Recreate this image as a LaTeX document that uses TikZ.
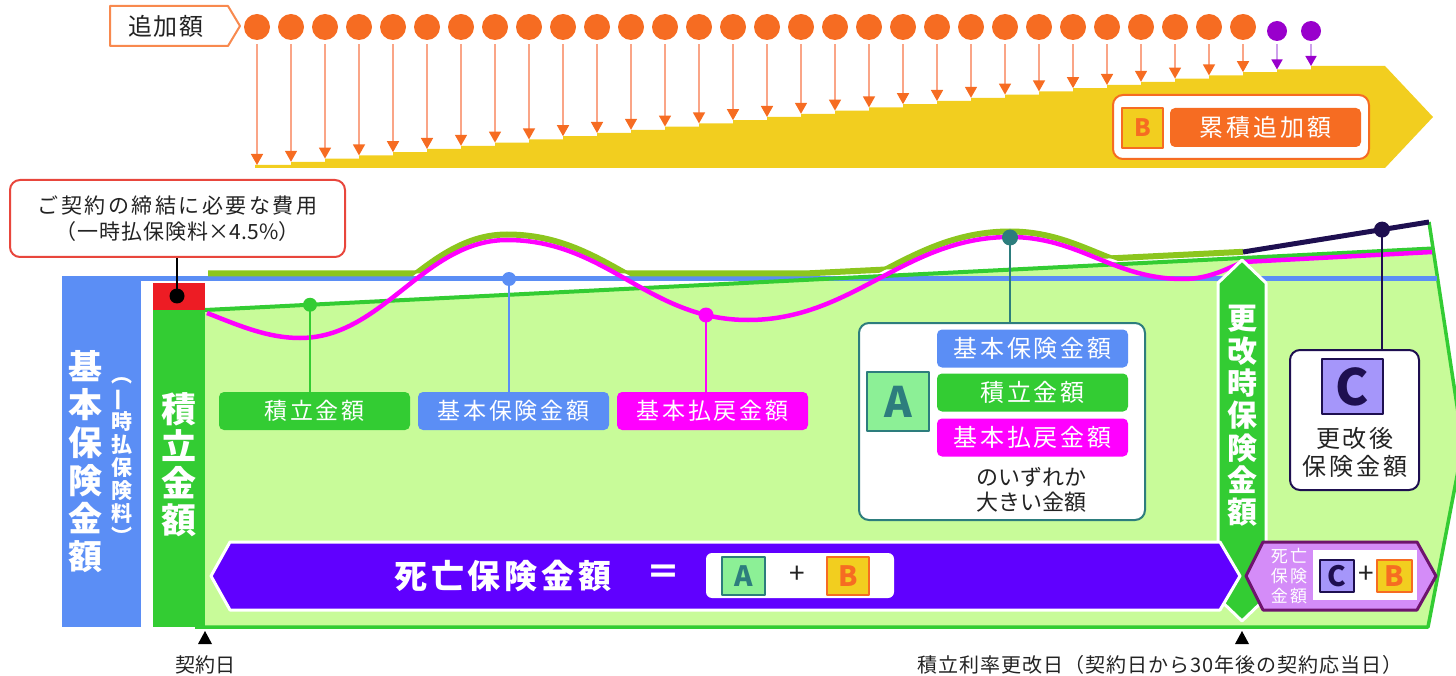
\documentclass[tikz,border=0pt]{standalone}
\usepackage{fontspec}
\usepackage{graphicx}
\setmainfont{Noto Sans CJK JP}
\newfontfamily\jsp{Noto Sans CJK JP}[LetterSpace=12]
\newfontfamily\jss{Noto Sans CJK JP}[LetterSpace=5]
\usetikzlibrary{arrows.meta}
\definecolor{yel}{RGB}{242,206,31}
\definecolor{orng}{RGB}{246,108,34}
\definecolor{orl}{RGB}{250,165,135}
\definecolor{purd}{RGB}{153,0,204}
\definecolor{purl}{RGB}{205,160,235}
\definecolor{blu}{RGB}{91,142,245}
\definecolor{grn}{RGB}{51,204,51}
\definecolor{lgrn}{RGB}{200,251,153}
\definecolor{mag}{RGB}{255,0,255}
\definecolor{olv}{RGB}{140,198,30}
\definecolor{redc}{RGB}{237,28,36}
\definecolor{calred}{RGB}{232,70,60}
\definecolor{navy}{RGB}{30,15,80}
\definecolor{tealc}{RGB}{45,125,125}
\definecolor{agrn}{RGB}{140,240,150}
\definecolor{lavsq}{RGB}{165,150,250}
\definecolor{pur}{RGB}{96,0,255}
\definecolor{lav}{RGB}{212,140,248}
\definecolor{dpur}{RGB}{110,20,110}
\definecolor{txt}{RGB}{35,35,35}
\tikzset{
  odot/.style={circle, fill=orng, minimum size=26pt, inner sep=0pt},
  pdot/.style={circle, fill=purd, minimum size=20pt, inner sep=0pt},
  oarr/.style={orl, line width=1.5pt, shorten <=4pt, -{Triangle[width=12pt,length=11pt,color=orng]}},
  parr/.style={purl, line width=1.5pt, shorten <=3pt, -{Triangle[width=11pt,length=10pt,color=purd]}},
  pill/.style={rounded corners=5pt, inner sep=0pt, text=white, minimum width=191pt, minimum height=38pt, font=\jsp\fontsize{23}{26}\selectfont},
  wbox/.style={rounded corners=10pt, fill=white, line width=2pt, inner sep=0pt},
  sq/.style={line width=2pt, inner sep=0pt, font=\bfseries},
  vtxt/.style={align=center, inner sep=0pt, text=white, font=\bfseries\fontsize{34}{38}\selectfont},
  lead/.style={line width=2pt},
  ldot/.style={circle, inner sep=0pt, minimum size=15pt},
  btxt/.style={text=txt, inner sep=0pt, align=center}
}
\def\magpath{(207,313) .. controls (240,326) and (268,338) .. (300,338) .. controls (383,338) and (424,240) .. (507,240) .. controls (607,240) and (648,320) .. (748,320) .. controls (853,320) and (905,237) .. (1010,237) .. controls (1080,237) and (1113,279) .. (1183,279) .. controls (1210,279) and (1228,268) .. (1243,262)}
\begin{document}
\begin{tikzpicture}[x=1pt,y=-1pt,line join=round]
\useasboundingbox (0,0) rectangle (1456,676);
\clip (0,0) rectangle (1456,676);

% ---------- top: additional amounts ----------
\fill[yel] (255,168) -- (255,165)
  \foreach \i in {1,...,29} { -- ({257+34*\i},{165-3.2*(\i-1)}) -- ({257+34*\i},{165-3.2*\i}) }
  -- (1277,72.2) -- (1277,69.5) -- (1311,69.5) -- (1311,66) -- (1385,66) -- (1433,117) -- (1385,168) -- cycle;

\draw[orng!80, line width=2pt, fill=white] (110,6) -- (228,6) -- (240,26) -- (228,46) -- (110,46) -- cycle;
\node[btxt, font=\jss\fontsize{24}{26}\selectfont] (tsuika) at (166,26) {追加額};

\foreach \i in {0,...,29} {
  \pgfmathsetmacro\xx{257+34*\i}
  \pgfmathsetmacro\hh{165-3.2*\i}
  \node[odot] (d\i) at (\xx,27) {};
  \coordinate (t\i) at (\xx,\hh);
  \draw[oarr] (d\i) -- (t\i);
}
\node[pdot] (q1) at (1277,31) {};
\node[pdot] (q2) at (1311,31) {};
\coordinate (u1) at (1277,69.5);
\coordinate (u2) at (1311,66);
\draw[parr] (q1) -- (u1);
\draw[parr] (q2) -- (u2);

\node[wbox, draw=orng, minimum width=256pt, minimum height=64pt] (bbox) at (1241,127) {};
\node[sq, draw=orng, fill=yel, text=orng, minimum width=41pt, minimum height=40pt, font=\bfseries\fontsize{24}{24}\selectfont] (bsq) at (1142.5,128) {B};
\node[pill, fill=orng, minimum height=39pt, font=\jsp\fontsize{24}{26}\selectfont] (ruiseki) at (1265.5,127.5) {累積追加額};

% ---------- main area ----------
\fill[lgrn] (205,310) -- (1432,248.5) -- (1463,445) -- (1428,627) -- (205,627) -- cycle;
\fill[blu] (62,277) rectangle (141,627);
\fill[redc] (153,283) rectangle (205,310);
\fill[grn] (153,310) rectangle (205,627);
\draw[grn, line width=3.5pt] (195,627) -- (1428,627) -- (1463,445) -- (1429,222);

\draw[blu, line width=5pt] (62,279) -- (1437,279);
\draw[grn, line width=4pt] (205,310) -- (1432,248.5);
\begin{scope}
  \clip[yshift=5.5pt] \magpath -- (1243,-20) -- (207,-20) -- cycle;
  \draw[olv, line width=6pt] (208,273.5) -- (805,273.5) -- (1243,251.8);
\end{scope}
\begin{scope}
  \clip (207,273.5) -- (805,273.5) -- (1243,251.8) -- (1243,0) -- (207,0) -- cycle;
  \draw[olv, line width=6pt, yshift=5.5pt] \magpath;
\end{scope}
\draw[mag, line width=4.5pt] \magpath -- (1432,252);
\draw[navy, line width=5pt] (1243,252) -- (1429,222);

% vertical bar texts
\node[vtxt] (kihon) at (85,462) {基\\本\\保\\険\\金\\額};
\node[vtxt, font=\bfseries\fontsize{21}{23}\selectfont] (ichiji) at (122,461) {︵\\\rotatebox[origin=c]{90}{一}\\時\\払\\保\\険\\料\\︶};
\node[vtxt, font=\bfseries\fontsize{35}{37}\selectfont] (tsumi) at (179,465) {積\\立\\金\\額};

% callout
\node[wbox, draw=calred, minimum width=335pt, minimum height=77pt, align=center, text=txt, font=\fontsize{21}{26}\selectfont] (cost) at (177.5,218.5) {{\jsp ご契約の締結に必要な費用}\\{\jss （一時払保険料}×4.5\%）};
\coordinate (pR) at (177,296);
\draw[line width=1.5pt] (pR) -- (pR |- cost.south);
\node[ldot, fill=black] (dR) at (pR) {};

% labels
\node[pill, fill=grn] (labG) at (314.5,411) {積立金額};
\node[pill, fill=blu] (labB) at (513.5,411) {基本保険金額};
\node[pill, fill=mag] (labM) at (712.5,411) {基本払戻金額};
\coordinate (pG) at (310,304.75);
\coordinate (pB) at (509,279);
\coordinate (pM) at (706,315);
\draw[lead, grn] (pG) -- (pG |- labG.north);
\draw[lead, blu] (pB) -- (pB |- labB.north);
\draw[lead, mag] (pM) -- (pM |- labM.north);
\node[ldot, fill=grn, minimum size=14pt] (dG) at (pG) {};
\node[ldot, fill=blu, minimum size=14pt] (dB) at (pB) {};
\node[ldot, fill=mag, minimum size=15pt] (dM) at (pM) {};

% A box
\node[wbox, draw=tealc, minimum width=286pt, minimum height=197pt] (boxA) at (1002,421.5) {};
\node[sq, draw=tealc, fill=agrn, text=tealc, minimum width=62pt, minimum height=59pt, font=\bfseries\fontsize{42}{42}\selectfont] (asq) at (898,401.5) {A};
\node[pill, fill=blu, font=\jsp\fontsize{24}{26}\selectfont] (a1) at (1032.5,348.5) {基本保険金額};
\node[pill, fill=grn, font=\jsp\fontsize{24}{26}\selectfont] (a2) at (1032.5,392.5) {積立金額};
\node[pill, fill=mag, font=\jsp\fontsize{24}{26}\selectfont] (a3) at (1032.5,437.5) {基本払戻金額};
\node[btxt, font=\fontsize{22}{25}\selectfont] (aoki) at (1031,490) {のいずれか\\大きい金額};
\coordinate (pA) at (1010,237.5);
\draw[lead, tealc] (pA) -- (pA |- boxA.north);
\node[ldot, fill=tealc, minimum size=16pt] (dA) at (pA) {};

% C box
\node[wbox, draw=navy, minimum width=129pt, minimum height=140pt] (boxC) at (1354.5,420) {};
\node[sq, draw=navy, fill=lavsq, text=navy, minimum width=61pt, minimum height=55pt, font=\bfseries\fontsize{50}{50}\selectfont] (csq) at (1352.5,386.5) {C};
\node[btxt, font=\jsp\fontsize{24}{28}\selectfont] (kogo) at (1355,452) {更改後\\保険金額};
\coordinate (pC) at (1382,229.6);
\draw[lead, navy] (pC) -- (pC |- boxC.north);
\node[ldot, fill=navy, minimum size=16pt] (dC) at (pC) {};

% renewal column
\draw[white, line width=3pt, fill=grn] (1218,283) -- (1242,260) -- (1266,283) -- (1266,598) -- (1242,621) -- (1218,598) -- cycle;
\node[vtxt, font=\bfseries\fontsize{30}{32.3}\selectfont] (kokai) at (1242,416) {更\\改\\時\\保\\険\\金\\額};

% death benefit band
\draw[white, line width=3pt, fill=pur] (211,576) -- (230,542) -- (1220,542) -- (1240,576) -- (1220,610) -- (230,610) -- cycle;
\node[text=white, inner sep=0pt, font=\bfseries\jsp\fontsize{33}{36}\selectfont] (shibo) at (503,576) {死亡保険金額};
\node[text=white, inner sep=0pt, font=\bfseries\fontsize{34}{36}\selectfont] (eq) at (663,575) {＝};
\node[fill=white, rounded corners=6pt, minimum width=188pt, minimum height=45pt, inner sep=0pt] (ab) at (800,575.5) {};
\node[sq, draw=tealc, fill=agrn, text=tealc, minimum width=43pt, minimum height=38pt, font=\bfseries\fontsize{28}{28}\selectfont] (asq2) at (743.5,576) {A};
\node[inner sep=0pt, text=txt, font=\fontsize{28}{28}\selectfont] (plus1) at (797,575) {+};
\node[sq, draw=orng, fill=yel, text=orng, minimum width=42pt, minimum height=38pt, font=\bfseries\fontsize{28}{28}\selectfont] (bsq2) at (848,576) {B};

% renewed death benefit
\draw[dpur, line width=3pt, fill=lav] (1246,576) -- (1263,542) -- (1417,542) -- (1436,576) -- (1417,610) -- (1263,610) -- cycle;
\node[text=white, inner sep=0pt, align=center, font=\jsp\fontsize{17}{20}\selectfont] (shibo2) at (1289,576) {死亡\\保険\\金額};
\node[fill=white, minimum width=104pt, minimum height=50pt, inner sep=0pt] (cb) at (1365,575) {};
\node[sq, draw=navy, fill=lavsq, text=navy, minimum width=34pt, minimum height=32pt, font=\bfseries\fontsize{28}{28}\selectfont] (csq2) at (1337,576) {C};
\node[inner sep=0pt, text=txt, font=\fontsize{28}{28}\selectfont] (plus2) at (1366,575) {+};
\node[sq, draw=orng, fill=yel, text=orng, minimum width=35pt, minimum height=32pt, font=\bfseries\fontsize{28}{28}\selectfont] (bsq3) at (1394.5,576) {B};

% bottom markers
\fill[black] (205,631) -- (212,644) -- (198,644) -- cycle;
\fill[black] (1242,631) -- (1249,644) -- (1235,644) -- cycle;
\node[btxt, font=\fontsize{20}{22}\selectfont] (keiyaku) at (205,665) {契約日};
\node[btxt, font=\jss\fontsize{20}{22}\selectfont] (henko) at (1160,665) {積立利率更改日（契約日から30年後の契約応当日）};
\end{tikzpicture}
\end{document}
